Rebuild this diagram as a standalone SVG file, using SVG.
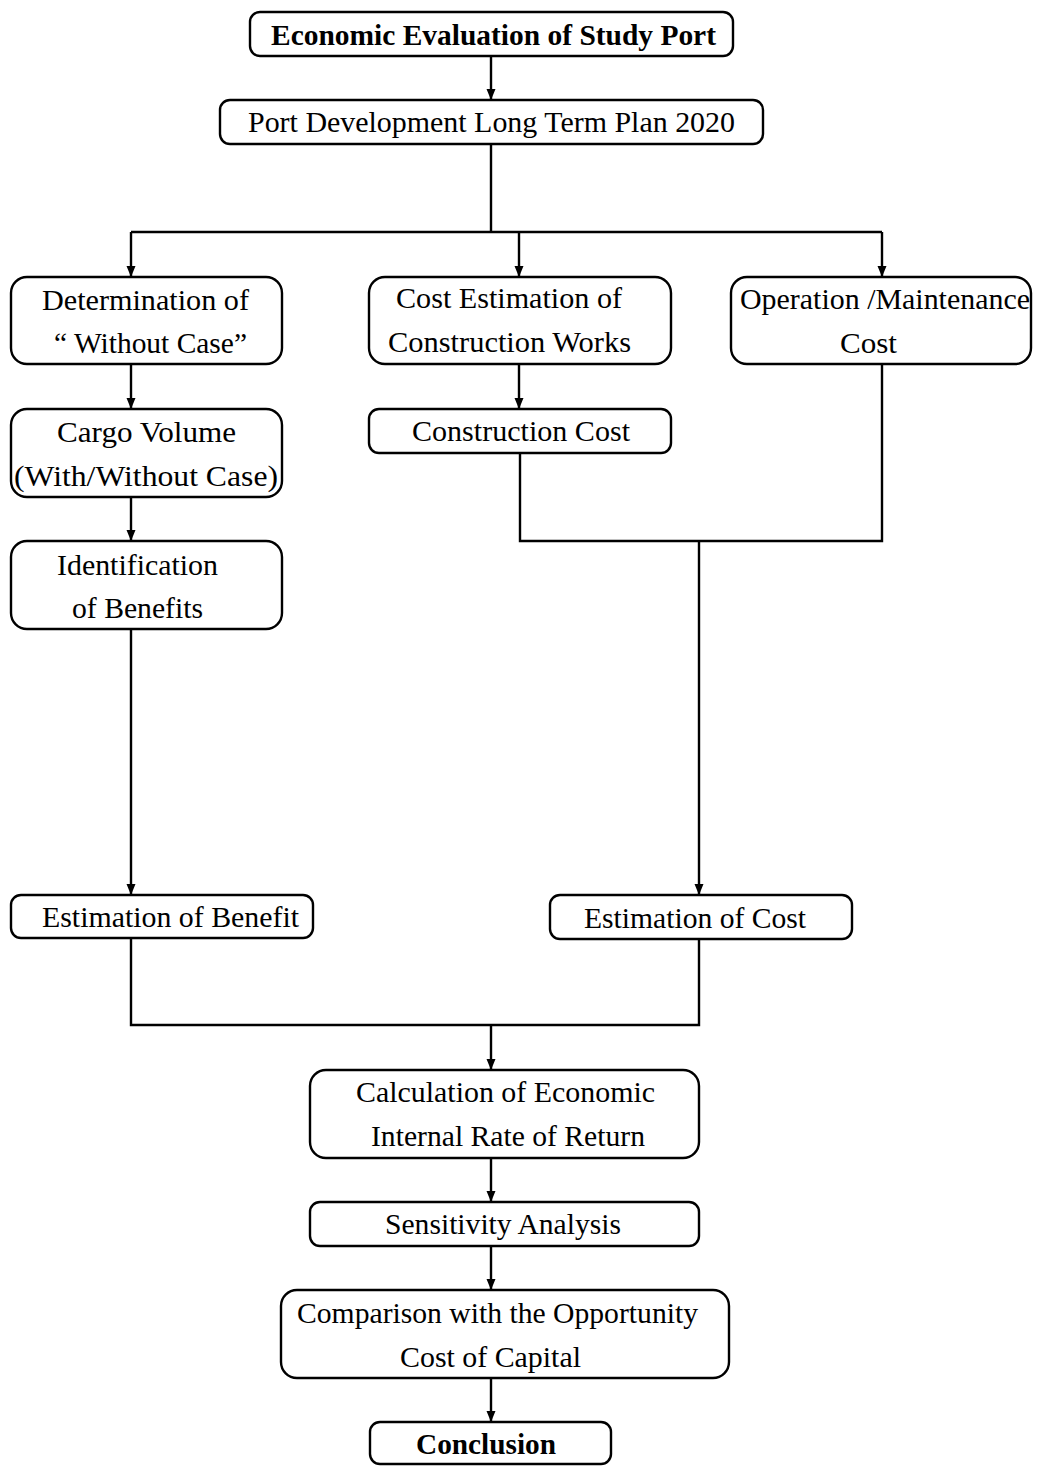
<svg xmlns="http://www.w3.org/2000/svg" width="1040" height="1466" viewBox="0 0 1040 1466">
<style>
.box{fill:#fff;stroke:#000;stroke-width:2.4}
.t{font-family:"Liberation Serif","Times New Roman",serif;font-size:30px;fill:#000}
.b{font-weight:bold}
.c{fill:none;stroke:#000;stroke-width:2.4}
</style>
<defs>
<marker id="ah" markerUnits="userSpaceOnUse" markerWidth="12" markerHeight="12" refX="11" refY="5" orient="auto">
<path d="M0,0.5 L11,5 L0,9.5 z" fill="#000"/>
</marker>
</defs>
<rect width="1040" height="1466" fill="#fff"/>
<g id="connectors">
<path class="c" d="M491,56 V100" marker-end="url(#ah)"/>
<path class="c" d="M491,144 V232 M131,232 H882"/>
<path class="c" d="M131,232 V277" marker-end="url(#ah)"/>
<path class="c" d="M519,232 V277" marker-end="url(#ah)"/>
<path class="c" d="M882,232 V277" marker-end="url(#ah)"/>
<path class="c" d="M131,364 V409" marker-end="url(#ah)"/>
<path class="c" d="M131,497 V541" marker-end="url(#ah)"/>
<path class="c" d="M131,629 V895" marker-end="url(#ah)"/>
<path class="c" d="M519,364 V409" marker-end="url(#ah)"/>
<path class="c" d="M520,453 V541 H882 V364"/>
<path class="c" d="M699,541 V895" marker-end="url(#ah)"/>
<path class="c" d="M131,938 V1025 H699 V939"/>
<path class="c" d="M491,1025 V1070" marker-end="url(#ah)"/>
<path class="c" d="M491,1158 V1202" marker-end="url(#ah)"/>
<path class="c" d="M491,1246 V1290" marker-end="url(#ah)"/>
<path class="c" d="M491,1378 V1422" marker-end="url(#ah)"/>
</g>
<g id="n1"><rect class="box" x="250" y="12" width="483" height="44" rx="10"/><text class="t b" x="271" y="45" textLength="445" lengthAdjust="spacingAndGlyphs">Economic Evaluation of Study Port</text></g>
<g id="n2"><rect class="box" x="220" y="100" width="543" height="44" rx="10"/><text class="t" x="248" y="132" textLength="487" lengthAdjust="spacingAndGlyphs">Port Development Long Term Plan 2020</text></g>
<g id="n3"><rect class="box" x="11" y="277" width="271" height="87" rx="16"/><text class="t" x="42" y="310" textLength="207" lengthAdjust="spacingAndGlyphs">Determination of</text><text class="t" x="54" y="353" textLength="193" lengthAdjust="spacingAndGlyphs">“ Without Case”</text></g>
<g id="n4"><rect class="box" x="369" y="277" width="302" height="87" rx="16"/><text class="t" x="396" y="308" textLength="226" lengthAdjust="spacingAndGlyphs">Cost Estimation of</text><text class="t" x="388" y="352" textLength="243" lengthAdjust="spacingAndGlyphs">Construction Works</text></g>
<g id="n5"><rect class="box" x="731" y="277" width="300" height="87" rx="16"/><text class="t" x="740" y="309" textLength="290" lengthAdjust="spacingAndGlyphs">Operation /Maintenance</text><text class="t" x="840" y="353" textLength="57" lengthAdjust="spacingAndGlyphs">Cost</text></g>
<g id="n6"><rect class="box" x="11" y="409" width="271" height="88" rx="16"/><text class="t" x="57" y="442" textLength="179" lengthAdjust="spacingAndGlyphs">Cargo Volume</text><text class="t" x="14" y="486" textLength="264" lengthAdjust="spacingAndGlyphs">(With/Without Case)</text></g>
<g id="n7"><rect class="box" x="369" y="409" width="302" height="44" rx="10"/><text class="t" x="412" y="441" textLength="218" lengthAdjust="spacingAndGlyphs">Construction Cost</text></g>
<g id="n8"><rect class="box" x="11" y="541" width="271" height="88" rx="16"/><text class="t" x="57" y="575" textLength="161" lengthAdjust="spacingAndGlyphs">Identification</text><text class="t" x="72" y="618" textLength="131" lengthAdjust="spacingAndGlyphs">of Benefits</text></g>
<g id="n9"><rect class="box" x="11" y="895" width="302" height="43" rx="10"/><text class="t" x="42" y="927" textLength="257" lengthAdjust="spacingAndGlyphs">Estimation of Benefit</text></g>
<g id="n10"><rect class="box" x="550" y="895" width="302" height="44" rx="10"/><text class="t" x="584" y="928" textLength="222" lengthAdjust="spacingAndGlyphs">Estimation of Cost</text></g>
<g id="n11"><rect class="box" x="310" y="1070" width="389" height="88" rx="16"/><text class="t" x="356" y="1102" textLength="299" lengthAdjust="spacingAndGlyphs">Calculation of Economic</text><text class="t" x="371" y="1146" textLength="274" lengthAdjust="spacingAndGlyphs">Internal Rate of Return</text></g>
<g id="n12"><rect class="box" x="310" y="1202" width="389" height="44" rx="10"/><text class="t" x="385" y="1234" textLength="236" lengthAdjust="spacingAndGlyphs">Sensitivity Analysis</text></g>
<g id="n13"><rect class="box" x="281" y="1290" width="448" height="88" rx="16"/><text class="t" x="297" y="1323" textLength="401" lengthAdjust="spacingAndGlyphs">Comparison with the Opportunity</text><text class="t" x="400" y="1367" textLength="181" lengthAdjust="spacingAndGlyphs">Cost of Capital</text></g>
<g id="n14"><rect class="box" x="370" y="1422" width="241" height="42" rx="10"/><text class="t b" x="416" y="1454" textLength="140" lengthAdjust="spacingAndGlyphs">Conclusion</text></g>
</svg>
